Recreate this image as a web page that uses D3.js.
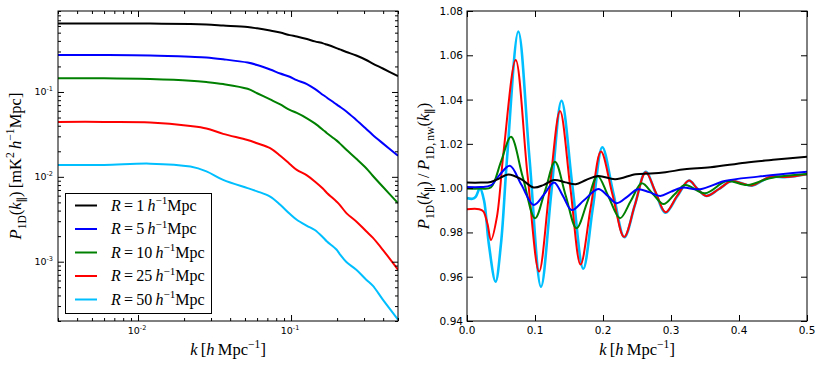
<!DOCTYPE html>
<html>
<head>
<meta charset="utf-8">
<script src="https://cdn.jsdelivr.net/npm/d3@7"></script>
<style>
  body { margin: 0; background: #fff; }
  svg { display: block; }
</style>
</head>
<body>
<svg id="chart" width="822" height="366"></svg>
<script>
// ---- data ----
const radii = ["1", "5", "10", "25", "50"];

// left panel: P_1D(k) on a shared k grid
const kLeft = [0.003, 0.006, 0.012, 0.022, 0.028, 0.036, 0.052, 0.06, 0.073, 0.085, 0.098, 0.109,
  0.127, 0.143, 0.162, 0.171, 0.198, 0.208, 0.23, 0.267, 0.31, 0.342, 0.398, 0.5];
const pR1 = [0.643, 0.643, 0.640, 0.631, 0.622, 0.606, 0.582, 0.562, 0.529, 0.501, 0.468, 0.450,
  0.420, 0.395, 0.374, 0.362, 0.329, 0.318, 0.296, 0.269, 0.238, 0.216, 0.189, 0.154];
const pR5 = [0.272, 0.272, 0.269, 0.260, 0.255, 0.243, 0.222, 0.208, 0.184, 0.165, 0.151, 0.138,
  0.124, 0.109, 0.0922, 0.0862, 0.0713, 0.0672, 0.0590, 0.0468, 0.0367, 0.0312, 0.0248, 0.0177];
const pR10 = [0.145, 0.145, 0.142, 0.136, 0.131, 0.124, 0.109, 0.0966, 0.0816, 0.0713, 0.0614, 0.0566,
  0.0490, 0.0426, 0.0357, 0.0329, 0.0269, 0.0248, 0.0208, 0.0163, 0.0126, 0.0103, 0.00763, 0.0049];
const pR25 = [0.0444, 0.0444, 0.0438, 0.0398, 0.0372, 0.0321, 0.0272, 0.0249, 0.0218, 0.0177, 0.0142, 0.0121,
  0.0104, 0.00881, 0.00722, 0.00650, 0.00512, 0.00468, 0.00374, 0.00298, 0.00228, 0.00192, 0.00138, 0.000805];
const pR50 = [0.0138, 0.0138, 0.0143, 0.0132, 0.0116, 0.00922, 0.00736, 0.00675, 0.00586, 0.00468, 0.00367, 0.00312,
  0.00265, 0.00236, 0.00193, 0.00174, 0.00139, 0.00123, 0.00099, 0.000805, 0.000614, 0.000522, 0.000357, 0.000208];

// right panel: P_1D / P_1D,nw
const kRatioR1 = [0, 0.02, 0.035, 0.045, 0.061, 0.08, 0.098, 0.113, 0.128, 0.145, 0.16, 0.175, 0.193,
  0.218, 0.248, 0.27, 0.292, 0.32, 0.358, 0.409, 0.45, 0.5];
const ratioR1 = [1.0025, 1.0025, 1.0028, 1.0040, 1.0062, 1.0040, 1.0003, 1.0015, 1.0037, 1.0026, 1.0018, 1.0037, 1.0055,
  1.0040, 1.0063, 1.0066, 1.0072, 1.0085, 1.0094, 1.0115, 1.0128, 1.0142];
const kRatioR5 = [0, 0.02, 0.035, 0.048, 0.063, 0.08, 0.098, 0.113, 0.128, 0.141, 0.154, 0.172, 0.193,
  0.207, 0.22, 0.236, 0.251, 0.268, 0.284, 0.3, 0.316, 0.343, 0.379, 0.428, 0.5];
const ratioR5 = [1.0005, 1.0005, 1.0012, 1.0060, 1.0101, 1.0015, 0.9924, 0.9970, 1.0026, 0.9965, 0.9901, 0.9945, 0.9996,
  0.9965, 0.9932, 0.9962, 0.9995, 0.9982, 0.9965, 0.9984, 1.0002, 0.9995, 1.0032, 1.0052, 1.0074];
const kRatioR10 = [0, 0.02, 0.035, 0.05, 0.0647, 0.082, 0.1, 0.115, 0.1294, 0.145, 0.161, 0.177, 0.192,
  0.208, 0.225, 0.241, 0.257, 0.273, 0.289, 0.305, 0.3206, 0.35, 0.382, 0.413, 0.445, 0.5];
const ratioR10 = [0.9998, 0.9998, 1.0003, 1.0120, 1.0232, 1.0050, 0.9864, 0.9990, 1.0119, 0.9968, 0.9819, 0.9938, 1.0055,
  0.9962, 0.9864, 0.9943, 1.0022, 0.9975, 0.9928, 0.9971, 1.0014, 0.9977, 1.0032, 1.0014, 1.0045, 1.0064];
const kRatioR25 = [0, 0.018, 0.024, 0.03, 0.0353, 0.044, 0.054, 0.0716, 0.089, 0.106, 0.121, 0.1368, 0.152,
  0.167, 0.182, 0.197, 0.214, 0.231, 0.247, 0.2628, 0.277, 0.292, 0.309, 0.3265, 0.338, 0.352, 0.37,
  0.389, 0.404, 0.419, 0.446, 0.47, 0.5];
const ratioR25 = [0.9905, 0.9905, 0.9895, 0.9840, 0.9766, 0.9870, 1.0170, 1.0579, 1.0060, 0.9623, 0.9985, 1.0348, 1.0000,
  0.9655, 0.9915, 1.0165, 0.9970, 0.9780, 0.9925, 1.0072, 0.9985, 0.9891, 0.9965, 1.0034, 1.0000, 0.9965, 0.9995,
  1.0032, 1.0022, 1.0012, 1.0052, 1.0050, 1.0063];
const kRatioR50 = [0, 0.008, 0.013, 0.019, 0.025, 0.032, 0.042, 0.05, 0.059, 0.0755, 0.092, 0.1088, 0.124,
  0.139, 0.155, 0.171, 0.185, 0.199, 0.215, 0.2314, 0.247, 0.2628, 0.277, 0.292, 0.309, 0.3265, 0.338,
  0.352, 0.37, 0.389, 0.404, 0.419, 0.446, 0.47, 0.5];
const ratioR50 = [0.9955, 0.9952, 0.9962, 1.0000, 0.9945, 0.9750, 0.9577, 0.9750, 1.0140, 1.0707, 1.0130, 0.9555, 0.9980,
  1.0395, 1.0010, 0.9636, 0.9910, 1.0185, 0.9980, 0.9778, 0.9925, 1.0074, 0.9982, 0.9889, 0.9962, 1.0034, 1.0000,
  0.9965, 0.9995, 1.0032, 1.0022, 1.0011, 1.0050, 1.0050, 1.0063];

const xLogLabels = [0.01, 0.1];
const yLogLabels = [0.001, 0.01, 0.1];
const xRatioTicks = [0, 0.1, 0.2, 0.3, 0.4, 0.5];
const yRatioTicks = [0.94, 0.96, 0.98, 1.0, 1.02, 1.04, 1.06, 1.08];

const powerSeries = [pR1, pR5, pR10, pR25, pR50];
const ratioSeries = [
  [kRatioR1, ratioR1], [kRatioR5, ratioR5], [kRatioR10, ratioR10], [kRatioR25, ratioR25], [kRatioR50, ratioR50]
];
const colors = ["#000000", "#0000ff", "#008000", "#ff0000", "#00bfff"];

// ---- layout ----
const LEFT = { x0: 58, x1: 398, y0: 11, y1: 321 };
const RIGHT = { x0: 467, x1: 807, y0: 11, y1: 321 };
const SERIF = "'Liberation Serif', 'DejaVu Serif', serif";
const SANS = "'DejaVu Sans', sans-serif";
const MAJOR = 6;
const MINOR = 3;

const svg = d3.select("#chart");

const xL = d3.scaleLog().domain([0.003, 0.5]).range([LEFT.x0, LEFT.x1]);
const yL = d3.scaleLog().domain([2e-4, 0.9]).range([LEFT.y1, LEFT.y0]);
const xR = d3.scaleLinear().domain([0, 0.5]).range([RIGHT.x0, RIGHT.x1]);
const yR = d3.scaleLinear().domain([0.94, 1.08]).range([RIGHT.y1, RIGHT.y0]);

const defs = svg.append("defs");
[["clipL", LEFT], ["clipR", RIGHT]].forEach(([id, b]) => {
  defs.append("clipPath").attr("id", id)
    .append("rect").attr("x", b.x0).attr("y", b.y0)
    .attr("width", b.x1 - b.x0).attr("height", b.y1 - b.y0);
});

// math-ish text built from tspans; parts: {t, i: italic, s: "sub"|"sup"}
function addMath(text, parts, size) {
  let shift = 0;
  parts.forEach((p) => {
    const target = p.s === "sub" ? 0.28 * size : p.s === "sup" ? -0.4 * size : 0;
    const ts = text.append("tspan").attr("dy", target - shift).text(p.t);
    shift = target;
    if (p.i) ts.attr("font-style", "italic");
    if (p.s) ts.attr("font-size", size * 0.7);
  });
}

const isDecade = (d) => Math.abs(Math.log10(d) - Math.round(Math.log10(d))) < 1e-6;

function drawTicks(box, x, y, xTicks, yTicks, size) {
  const g = svg.append("g");
  const strip = (sel) => sel.select(".domain").remove();
  g.append("g").attr("transform", `translate(0,${box.y1})`)
    .call(d3.axisBottom(x).tickValues(xTicks).tickSize(-size).tickFormat("")).call(strip);
  g.append("g").attr("transform", `translate(0,${box.y0})`)
    .call(d3.axisTop(x).tickValues(xTicks).tickSize(-size).tickFormat("")).call(strip);
  g.append("g").attr("transform", `translate(${box.x0},0)`)
    .call(d3.axisLeft(y).tickValues(yTicks).tickSize(-size).tickFormat("")).call(strip);
  g.append("g").attr("transform", `translate(${box.x1},0)`)
    .call(d3.axisRight(y).tickValues(yTicks).tickSize(-size).tickFormat("")).call(strip);
  g.selectAll("line").attr("stroke", "#000").attr("stroke-width", 1);
}

// ---- left panel ----
const lineL = d3.line()
  .x((d) => xL(d[0]))
  .y((d) => yL(d[1]))
  .curve(d3.curveCatmullRom.alpha(0.5));

const gL = svg.append("g").attr("clip-path", "url(#clipL)");
powerSeries.forEach((vals, i) => {
  gL.append("path")
    .datum(d3.zip(kLeft, vals))
    .attr("d", lineL)
    .attr("fill", "none")
    .attr("stroke", colors[i])
    .attr("stroke-width", 2);
});

const xLAll = xL.ticks();
const yLAll = yL.ticks();
drawTicks(LEFT, xL, yL, xLAll.filter((d) => !isDecade(d)), yLAll.filter((d) => !isDecade(d)), MINOR);
drawTicks(LEFT, xL, yL, xLogLabels, yLogLabels, MAJOR);

svg.append("rect")
  .attr("x", LEFT.x0).attr("y", LEFT.y0)
  .attr("width", LEFT.x1 - LEFT.x0).attr("height", LEFT.y1 - LEFT.y0)
  .attr("fill", "none").attr("stroke", "#000").attr("stroke-width", 1);

function powLabel(sel, d) {
  sel.append("tspan").text("10");
  sel.append("tspan").attr("dy", -4).attr("font-size", 6.5).text("-" + Math.round(-Math.log10(d)));
}
svg.append("g").selectAll("text").data(xLogLabels).join("text")
  .attr("x", (d) => xL(d) - 1).attr("y", LEFT.y1 + 12.5)
  .attr("text-anchor", "middle")
  .attr("font-family", SANS).attr("font-size", 9.5)
  .each(function (d) { powLabel(d3.select(this), d); });
svg.append("g").selectAll("text").data(yLogLabels).join("text")
  .attr("x", LEFT.x0 - 5).attr("y", (d) => yL(d) + 3.5)
  .attr("text-anchor", "end")
  .attr("font-family", SANS).attr("font-size", 9.5)
  .each(function (d) { powLabel(d3.select(this), d); });

// legend
const legendSize = 16;
const legend = svg.append("g");
legend.append("rect")
  .attr("x", 65.5).attr("y", 193.5).attr("width", 146).attr("height", 120)
  .attr("fill", "#fff").attr("stroke", "#000").attr("stroke-width", 1);
radii.forEach((r, i) => {
  const cy = 205.5 + i * 23.5;
  legend.append("line")
    .attr("x1", 75).attr("x2", 97).attr("y1", cy).attr("y2", cy)
    .attr("stroke", colors[i]).attr("stroke-width", 2);
  const t = legend.append("text")
    .attr("x", 111).attr("y", cy + 5)
    .attr("font-family", SERIF).attr("font-size", legendSize);
  addMath(t, [{ t: "R", i: 1 }, { t: "\u2009=\u2009" + r + "\u2009" }, { t: "h", i: 1 }, { t: "\u22121", s: "sup" }, { t: "Mpc" }], legendSize);
});

// axis titles
const titleSize = 16.5;
const xTitle = (cx) => {
  const t = svg.append("text").attr("x", cx).attr("y", 355)
    .attr("text-anchor", "middle").attr("font-family", SERIF).attr("font-size", titleSize);
  addMath(t, [{ t: "k", i: 1 }, { t: "\u2009[" }, { t: "h", i: 1 }, { t: "\u2009Mpc" }, { t: "\u22121", s: "sup" }, { t: "]" }], titleSize);
};
xTitle((LEFT.x0 + LEFT.x1) / 2);
xTitle((RIGHT.x0 + RIGHT.x1) / 2);

const yTitleL = svg.append("text")
  .attr("transform", `translate(21,${(LEFT.y0 + LEFT.y1) / 2}) rotate(-90)`)
  .attr("text-anchor", "middle").attr("font-family", SERIF).attr("font-size", titleSize);
addMath(yTitleL, [
  { t: "P", i: 1 }, { t: "1D", s: "sub" }, { t: "(" }, { t: "k", i: 1 }, { t: "\u2225", s: "sub" },
  { t: ")\u2009[mK" }, { t: "2", s: "sup" }, { t: "\u2009" }, { t: "h", i: 1 }, { t: "\u22121", s: "sup" }, { t: "Mpc]" }
], titleSize);

// ---- right panel ----
const lineR = d3.line()
  .x((d) => xR(d[0]))
  .y((d) => yR(d[1]))
  .curve(d3.curveCatmullRom.alpha(0.5));

const gR = svg.append("g").attr("clip-path", "url(#clipR)");
ratioSeries.slice().reverse().forEach(([ks, vs], j) => {
  const i = ratioSeries.length - 1 - j;
  gR.append("path")
    .datum(d3.zip(ks, vs))
    .attr("d", lineR)
    .attr("fill", "none")
    .attr("stroke", colors[i])
    .attr("stroke-width", i === 4 ? 2.6 : 2);
});

drawTicks(RIGHT, xR, yR, xRatioTicks, yRatioTicks, MAJOR);
svg.append("rect")
  .attr("x", RIGHT.x0).attr("y", RIGHT.y0)
  .attr("width", RIGHT.x1 - RIGHT.x0).attr("height", RIGHT.y1 - RIGHT.y0)
  .attr("fill", "none").attr("stroke", "#000").attr("stroke-width", 1);

svg.append("g").selectAll("text").data(xRatioTicks).join("text")
  .attr("x", (d) => xR(d)).attr("y", RIGHT.y1 + 12.5)
  .attr("text-anchor", "middle")
  .attr("font-family", SANS).attr("font-size", 10.5)
  .text(d3.format(".1f"));
svg.append("g").selectAll("text").data(yRatioTicks).join("text")
  .attr("x", RIGHT.x0 - 4).attr("y", (d) => yR(d) + 4)
  .attr("text-anchor", "end")
  .attr("font-family", SANS).attr("font-size", 10.5)
  .text(d3.format(".2f"));

const yTitleR = svg.append("text")
  .attr("transform", `translate(429,${(RIGHT.y0 + RIGHT.y1) / 2}) rotate(-90)`)
  .attr("text-anchor", "middle").attr("font-family", SERIF).attr("font-size", titleSize);
addMath(yTitleR, [
  { t: "P", i: 1 }, { t: "1D", s: "sub" }, { t: "(" }, { t: "k", i: 1 }, { t: "\u2225", s: "sub" }, { t: ")\u2009/\u2009" },
  { t: "P", i: 1 }, { t: "1D,\u2009nw", s: "sub" }, { t: "(" }, { t: "k", i: 1 }, { t: "\u2225", s: "sub" }, { t: ")" }
], titleSize);
</script>
</body>
</html>
